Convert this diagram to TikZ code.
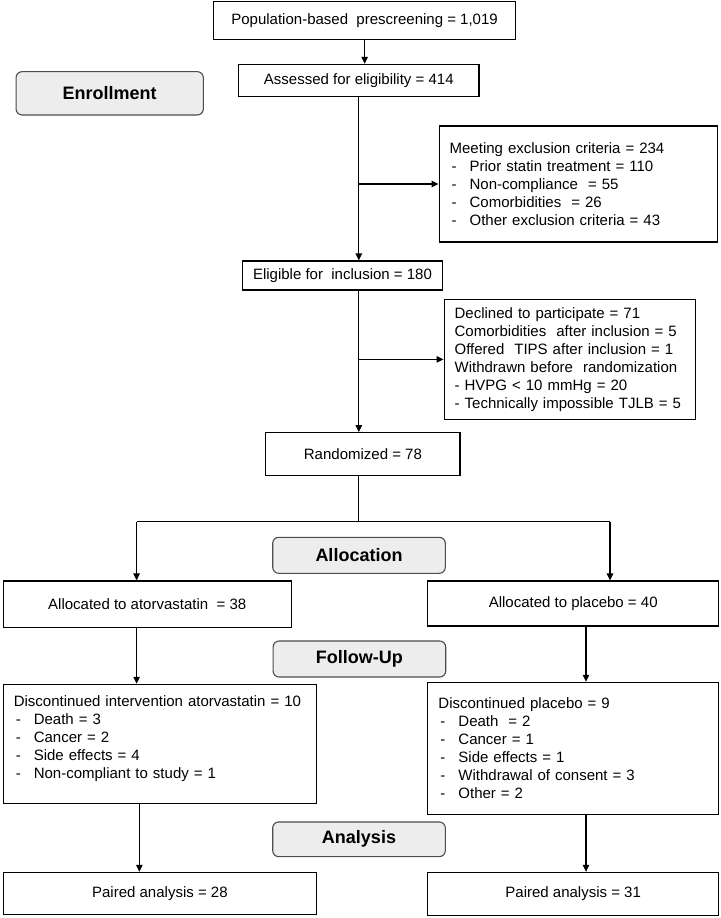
\documentclass[tikz,border=0pt]{standalone}
\usepackage{fontspec}
\setmainfont{Liberation Sans}
\usetikzlibrary{arrows.meta}

\newcommand\itemdash{\hspace*{2pt}\makebox[18pt][l]{-}}

\begin{document}
\begin{tikzpicture}[x=1pt, y=-1pt, line width=1.1pt,
    every node/.style = {font=\fontsize{15}{18}\selectfont, inner sep=0pt},
    box/.style 2 args = {shape=rectangle, draw, minimum width=#1, minimum height=#2},
    listbox/.style 2 args = {shape=rectangle, draw, align=left, inner xsep=10.6pt,
      text width=#1, minimum height=#2},
    phase/.style = {shape=rectangle, rounded corners=6pt, draw=black!70, fill=black!7,
      font=\fontsize{18}{21}\selectfont\bfseries, minimum width=172.6pt, minimum height=36pt},
    arr/.style = {-{Triangle[length=7pt,width=6.5pt]}}]
  \useasboundingbox (0,0) rectangle (720,918);

  \node[box={301.8pt}{37.6pt}] (pre) at (364.6,20.5) {Population-based \ prescreening = 1,019};
  \node[box={240.4pt}{32.4pt}] (ass) at (358.8,80.5) {Assessed for eligibility = 414};
  \node[phase, minimum width=187.3pt, minimum height=43.3pt] (enroll) at (109.7,93.3) {Enrollment};
  \node[listbox={257.1pt}{116pt}] (excl) at (578.2,184) {Meeting exclusion criteria = 234\\
    \itemdash Prior statin treatment = 110\\
    \itemdash Non-compliance \ = 55\\
    \itemdash Comorbidities \ = 26\\
    \itemdash Other exclusion criteria = 43};
  \node[box={199.6pt}{29pt}] (eli) at (342.5,275.5) {Eligible for \ inclusion = 180};
  \node[listbox={230.5pt}{120.7pt}] (dec) at (569.9,359.4) {Declined to participate = 71\\
    Comorbidities \ after inclusion = 5\\
    Offered \ TIPS after inclusion = 1\\
    Withdrawn before \ randomization\\
    - HVPG < 10 mmHg = 20\\
    - Technically impossible TJLB = 5};
  \node[box={194.2pt}{42.6pt}] (ran) at (362.9,454) {Randomized = 78};

  \node[phase] (alloc) at (359,555.3) {Allocation};
  \node[box={288pt}{46.7pt}] (aatv) at (147.2,604.3) {Allocated to atorvastatin \ = 38};
  \node[box={290.7pt}{45pt}] (apla) at (573.2,603.5) {Allocated to placebo = 40};

  \node[phase] (follow) at (359.4,659) {Follow-Up};
  \node[listbox={292.2pt}{119pt}] (datv) at (159.9,743.8) {Discontinued intervention atorvastatin = 10\\
    \itemdash Death = 3\\
    \itemdash Cancer = 2\\
    \itemdash Side effects = 4\\
    \itemdash Non-compliant to study = 1\rule[-14pt]{0pt}{1pt}};
  \node[listbox={269.5pt}{132pt}] (dpla) at (573.2,748.3) {Discontinued placebo = 9\\
    \itemdash Death \ = 2\\
    \itemdash Cancer = 1\\
    \itemdash Side effects = 1\\
    \itemdash Withdrawal of consent = 3\\
    \itemdash Other = 2};

  \node[phase, minimum height=34.7pt] (anal) at (359,839.3) {Analysis};
  \node[box={313.4pt}{42pt}] (patv) at (159.9,893.3) {Paired analysis = 28};
  \node[box={290.7pt}{42.7pt}] (ppla) at (573.2,893.7) {Paired analysis = 31};

  \coordinate (splitL) at (136.6,521.7);
  \coordinate (splitR) at (610,521.7);

  \draw[arr] (pre.south) -- (pre.south |- ass.north);
  \draw[arr] (ass.south) -- (ass.south |- eli.north);
  \draw[arr] (ass.south |- excl.west) -- (excl.west);
  \draw[arr] (eli.south -| ass.south) -- (ran.north -| ass.south);
  \draw[arr] (ass.south |- dec.west) -- (dec.west);
  \draw (ran.south -| ass.south) -- (splitL -| ass.south);
  \draw (splitL) -- (splitR);
  \draw[arr] (splitL) -- (splitL |- aatv.north);
  \draw[arr] (splitR) -- (splitR |- apla.north);
  \draw[arr] (aatv.south -| splitL) -- (datv.north -| splitL);
  \draw[arr] ([xshift=12.8pt]apla.south) -- ([xshift=12.8pt]apla.south |- dpla.north);
  \draw[arr] ([xshift=-20.5pt]datv.south) -- ([xshift=-20.5pt]datv.south |- patv.north);
  \draw[arr] ([xshift=12.8pt]dpla.south) -- ([xshift=12.8pt]dpla.south |- ppla.north);
\end{tikzpicture}
\end{document}
